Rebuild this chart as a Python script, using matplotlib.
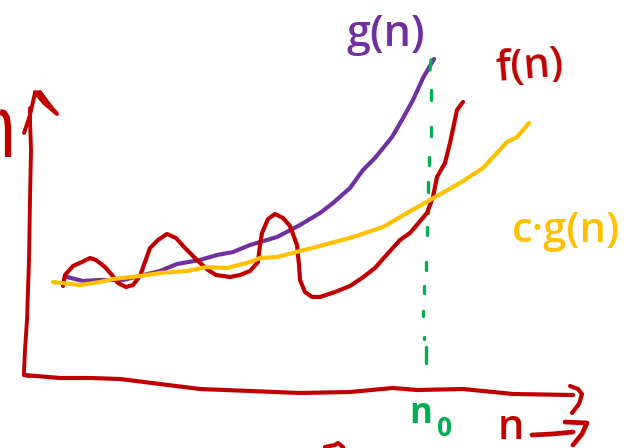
import numpy as np
import matplotlib
matplotlib.use("Agg")
import matplotlib.pyplot as plt

RED = "#C00000"; PURPLE = "#7030A0"; ORANGE = "#FFC000"; GREEN = "#00B050"

f_x = [63,65,73,82,90,96,105,112,118,126,133,140,145,150,158,167,176,185,197,208,216,230,240,250,258,260,262,268,275,283,290,297,299,300,305,312,320,335,350,362,375,382,400,410,427,433,437,445,450,457,463]
f_y = [286,275,266,262,258,260,267,275,283,287,285,276,262,248,240,234,238,248,260,270,275,277,275,271,262,245,233,219,214,218,226,245,265,280,292,297,297,292,286,278,268,260,240,233,213,197,177,163,143,110,102]

g_x = [67,83,100,123,160,177,200,217,233,250,277,300,320,333,350,363,375,392,402,413,423,434]
g_y = [277,281,280,280,271,264,260,255,252,245,237,225,213,203,188,170,158,137,120,100,78,59]

cg_x = [53,80,100,113,140,160,187,207,227,250,260,277,300,320,353,383,407,430,460,483,507,517,529]
cg_y = [282,285,282,279,276,273,271,267,268,262,258,257,251,246,237,227,213,200,183,168,142,137,123]

yaxis_x = [29,30,31,30,30]
yaxis_y = [260,200,150,120,108]
yaxis_low_x = [29,27]
yaxis_low_y = [260,320]
yaxis_bottom_x = [27,25,24,24,30]
yaxis_bottom_y = [320,350,372,375,376]
yhead_x = [24,30,35,40,48,57,44,35]
yhead_y = [133,115,93,92,103,114,103,92]

xaxis_x = [24,60,90,120,160,200,250,300,350,393,417,463,513,573]
xaxis_y = [375,378,378,379,384,389,391,393,392,388,390,389,394,395]
xhead_x = [570,578,582,579,572]
xhead_y = [386,389,394,404,413]

frag_x = [0,4,7,8,8]
frag_y = [112,113,118,127,157]
frag2_x = [325,335,338,343]
frag2_y = [447,445,443,447]

narrow_x = [532,552,573]
narrow_y = [435,434,432]
nhead_x = [565,587,582,573]
nhead_y = [422,423,434,445]

dash_x0 = [431,431,431,429,428,428,427,426,424,423,424,426]
dash_y0 = [60,90,127,157,182,207,227,262,286,311,337,347]
dash_x1 = [430,431,431,429,428,428,427,426,424,423,424,426]
dash_y1 = [70,100,136,165,192,213,235,270,293,316,339,363]

fig = plt.figure(figsize=(6.33, 4.48), dpi=100)
ax = fig.add_axes([0, 0, 1, 1])
ax.set_xlim(0, 633); ax.set_ylim(448, 0); ax.axis("off")

lw = 3.0
kw = dict(solid_capstyle="round", solid_joinstyle="round")
ax.plot(yaxis_x, yaxis_y, color=RED, lw=2.8, **kw)
ax.plot(yaxis_low_x, yaxis_low_y, color=RED, lw=2.8, **kw)
ax.plot(yaxis_bottom_x, yaxis_bottom_y, color=RED, lw=2.8, **kw)
ax.plot(yhead_x, yhead_y, color=RED, lw=2.8, **kw)
ax.plot(xaxis_x, xaxis_y, color=RED, lw=3.0, **kw)
ax.plot(xhead_x, xhead_y, color=RED, lw=3.0, **kw)
ax.plot(frag_x, frag_y, color=RED, lw=4.5, solid_capstyle="butt", solid_joinstyle="round")
ax.plot(frag2_x, frag2_y, color=RED, lw=3.0, **kw)

ax.plot(g_x, g_y, color=PURPLE, lw=lw, **kw)
for x0, y0, x1, y1 in zip(dash_x0, dash_y0, dash_x1, dash_y1):
    ax.plot([x0, x1], [y0, y1], color=GREEN, lw=2.4, **kw)
ax.plot(f_x, f_y, color=RED, lw=lw, **kw)
ax.plot(cg_x, cg_y, color=ORANGE, lw=lw, **kw)

font = "Open Sans"
ax.text(386, 34, "g(n)", color=PURPLE, fontsize=31, fontweight="semibold", family=font, ha="center", va="center")
ax.text(530, 67, "f(n)", color=RED, fontsize=30, fontweight="semibold", family=font, ha="center", va="center", rotation=5)
ax.text(566, 231, "c·g(n)", color=ORANGE, fontsize=30, fontweight="semibold", family=font, ha="center", va="center")
ax.text(421, 414, "n", color=GREEN, fontsize=25, fontweight="bold", family=font, ha="center", va="center")
ax.text(445, 428, "0", color=GREEN, fontsize=19, fontweight="bold", family=font, ha="center", va="center")
ax.text(511, 428, "n", color=RED, fontsize=30, fontweight="semibold", family=font, ha="center", va="center")
ax.plot(narrow_x, narrow_y, color=RED, lw=3.4, **kw)
ax.plot(nhead_x, nhead_y, color=RED, lw=3.4, **kw)

fig.savefig("out.png", dpi=100)
